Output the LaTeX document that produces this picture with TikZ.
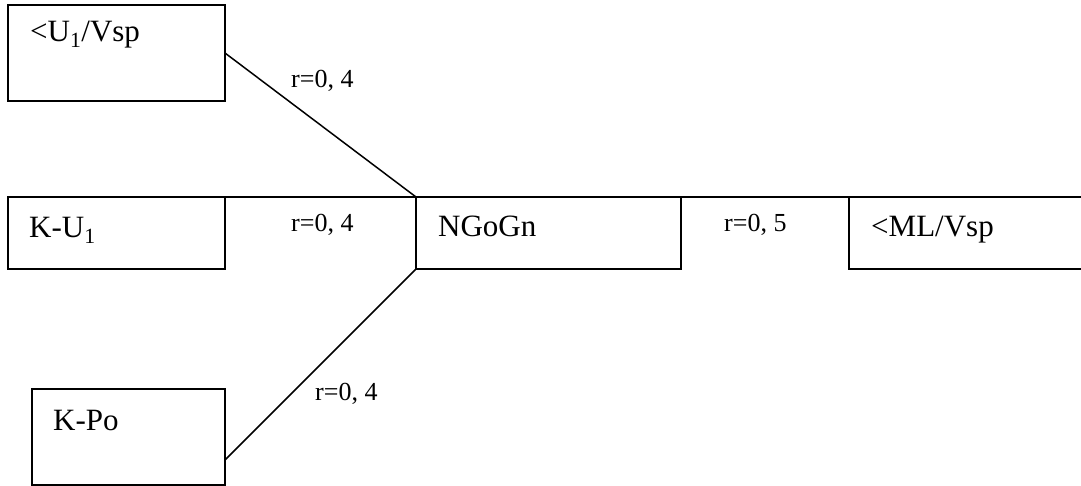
\documentclass[tikz,border=0pt]{standalone}
\usepackage{fontspec}
\setmainfont{Liberation Serif}
\usetikzlibrary{calc}
\tikzset{
  boxnode/.style={draw=black, line width=1.5pt, rectangle, inner sep=0pt, outer sep=0pt, anchor=north west},
  boxtext/.style={inner sep=0pt, anchor=base west, font=\fontsize{31}{36}\selectfont},
  corrlabel/.style={inner sep=0pt, anchor=base west, font=\fontsize{26}{30}\selectfont},
  link/.style={draw=black, line width=1.5pt},
}
\begin{document}
\begin{tikzpicture}[x=1pt, y=-1pt]
  \clip (0,0) rectangle (1081,486);
  \fill[white] (0,0) rectangle (1081,486);
  % boxes
  \node[boxnode, minimum width=217pt, minimum height=96pt] (b1) at (8,5) {};
  \node[boxnode, minimum width=217pt, minimum height=72pt] (b2) at (8,197) {};
  \node[boxnode, minimum width=193pt, minimum height=96pt] (b3) at (32,389) {};
  \node[boxnode, minimum width=265pt, minimum height=72pt] (ng) at (416,197) {};
  \node[boxnode, minimum width=260pt, minimum height=72pt] (ml) at (849,197) {};
  % box texts
  \node[boxtext] (t1) at (30,42) {<U\textsubscript{1}/Vsp};
  \node[boxtext] (t2) at (29,238) {K-U\textsubscript{1}};
  \node[boxtext] (t3) at (53,430) {K-Po};
  \node[boxtext] (t4) at (438,237) {NGoGn};
  \node[boxtext] (t5) at (871,237) {<ML/Vsp};
  % connectors
  \coordinate (b3p) at ($(b3.south east)+(0,-25)$);
  \coordinate (thk) at ($(ng.north east)+(-72,0)$);
  \draw[link] (b1.east) -- (ng.north west);
  \draw[link] (b2.north east) -- (ng.north west);
  \draw[link] (ng.north east) -- (ml.north west);
  \draw[link] (b3p) -- (ng.south west);
  \draw[draw=black, line width=2.6pt] (thk) -- (ng.north east);
  % correlation labels
  \node[corrlabel] (l1) at (291,88) {r=0, 4};
  \node[corrlabel] (l2) at (291,232) {r=0, 4};
  \node[corrlabel] (l3) at (315,400) {r=0, 4};
  \node[corrlabel] (l4) at (724,232) {r=0, 5};
\end{tikzpicture}
\end{document}
